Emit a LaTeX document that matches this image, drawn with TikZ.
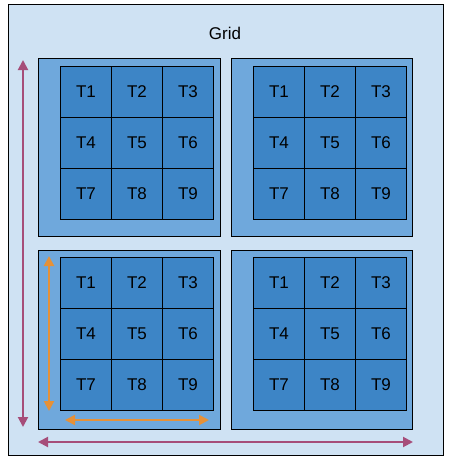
\documentclass[tikz,border=0pt]{standalone}
\usepackage{fontspec}
\setmainfont{Liberation Sans}
\usetikzlibrary{arrows.meta}
\definecolor{gridbg}{HTML}{CFE2F3}
\definecolor{blockbg}{HTML}{6FA8DC}
\definecolor{tilebg}{HTML}{3D85C6}
\definecolor{magarrow}{HTML}{A64D79}
\definecolor{orarrow}{HTML}{E69138}
\tikzset{
  gridbox/.style={draw=black, fill=gridbg, line width=1pt},
  blockbox/.style={draw=black, fill=blockbg, line width=1pt, inner sep=0pt, anchor=north west},
  tilebox/.style={draw=black, fill=tilebg, line width=0.9pt, inner sep=0pt, anchor=north west,
    minimum width=51pt, minimum height=51pt, font=\fontsize{17}{20}\selectfont},
  dimarrow/.style={line width=2pt, {Triangle[length=10pt,width=10pt]}-{Triangle[length=10pt,width=10pt]}},
}
\begin{document}
\begin{tikzpicture}[x=1pt,y=-1pt]
\useasboundingbox (0,0) rectangle (452,464);
\draw[gridbox] (8,4) rectangle (443,455);
\node[font=\fontsize{17}{20}\selectfont] (gridlabel) at (225,33) {Grid};
% blocks
\node[blockbox, minimum width=182pt, minimum height=178pt] (b1) at (38,58) {};
\node[blockbox, minimum width=181pt, minimum height=178pt] (b2) at (231,58) {};
\node[blockbox, minimum width=182pt, minimum height=179pt] (b3) at (38,250) {};
\node[blockbox, minimum width=181pt, minimum height=179pt] (b4) at (231,250) {};
% tiles
\foreach \bname/\bx/\by in {b1/60/66, b2/253/66, b3/60/257, b4/253/257} {
  \foreach \r in {0,1,2} {
    \foreach \c in {0,1,2} {
      \pgfmathtruncatemacro{\k}{3*\r+\c+1}
      \node[tilebox] (\bname t\k) at ({\bx+51*\c},{\by+51*\r}) {T\k};
    }
  }
}
% arrows
\coordinate (mvtop) at (23,60);
\coordinate (mvbot) at (23,427);
\coordinate (mhl) at (38,442);
\coordinate (mhr) at (413,442);
\coordinate (ovtop) at (49,256);
\coordinate (ovbot) at (49,411);
\coordinate (ohl) at (65,420);
\coordinate (ohr) at (209,420);
\draw[dimarrow, magarrow] (mvtop) -- (mvbot);
\draw[dimarrow, magarrow] (mhl) -- (mhr);
\draw[dimarrow, orarrow] (ovtop) -- (ovbot);
\draw[dimarrow, orarrow] (ohl) -- (ohr);
\end{tikzpicture}
\end{document}
